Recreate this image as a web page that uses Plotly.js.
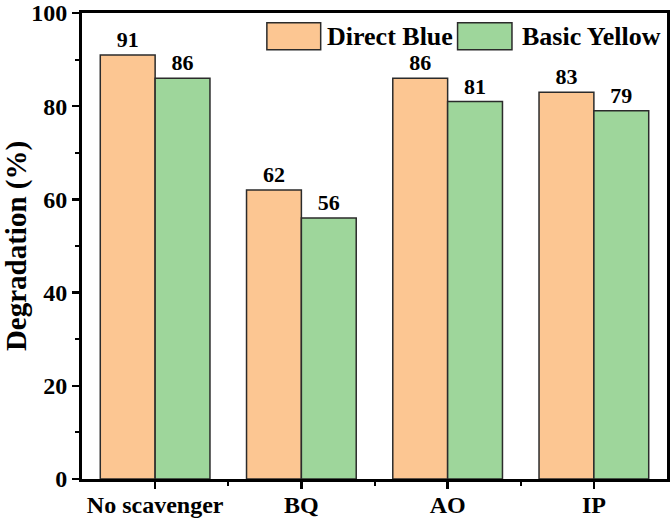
<!DOCTYPE html>
<html>
<head>
<meta charset="utf-8">
<script src="https://cdn.plot.ly/plotly-3.0.1.min.js"></script>
<style>
  body { margin: 0; background: #fff; }
  #chart { width: 670px; height: 521px; }
</style>
</head>
<body>
<div id="chart"></div>
<script>
const categories = ['No scavenger', 'BQ', 'AO', 'IP'];
const directBlue = [91, 62, 86, 83];
const basicYellow = [86, 56, 81, 79];
const yTicks = [0, 20, 40, 60, 80, 100];

const FONT = 'Liberation Serif, Times New Roman, serif';
const ORANGE = '#FCC692';
const GREEN = '#9ED69B';

const xPos = categories.map((c, i) => i);

const bar = (name, vals, color) => ({
    type: 'bar',
    name: name,
    x: xPos,
    y: vals,
    marker: { color: color, line: { color: '#2b2b2b', width: 1.5 } },
    text: vals.map(String),
    textposition: 'outside',
    textfont: { family: FONT, size: 22, weight: 'bold', color: '#000' },
    cliponaxis: false,
    hoverinfo: 'x+y'
});

const data = [
    bar('Direct Blue', directBlue, ORANGE),
    bar('Basic Yellow', basicYellow, GREEN)
];

// legend boxes drawn in paper space
const legendItems = [
    { name: 'Direct Blue', color: ORANGE, x0: 0.316, x1: 0.408, tx: 0.415 },
    { name: 'Basic Yellow', color: GREEN, x0: 0.642, x1: 0.735, tx: 0.749 }
];

const shapes = legendItems.map(it => ({
    type: 'rect', xref: 'paper', yref: 'paper',
    x0: it.x0, x1: it.x1, y0: 0.921, y1: 0.979,
    fillcolor: it.color, line: { color: '#2b2b2b', width: 1.5 }
}));

const annotations = legendItems.map(it => ({
    xref: 'paper', yref: 'paper', x: it.tx, y: 0.949,
    xanchor: 'left', yanchor: 'middle', showarrow: false,
    text: it.name,
    font: { family: FONT, size: 26, weight: 'bold', color: '#000' }
}));

const layout = {
    width: 670,
    height: 521,
    margin: { l: 82, r: 3, t: 13, b: 42 },
    paper_bgcolor: '#fff',
    plot_bgcolor: '#fff',
    showlegend: false,
    barmode: 'group',
    bargap: 0.25,
    bargroupgap: 0,
    font: { family: FONT, color: '#000' },
    xaxis: {
        range: [-0.5, 3.5],
        tickmode: 'array',
        tickvals: xPos,
        ticktext: categories,
        ticks: 'outside',
        ticklen: 7,
        tickwidth: 2.5,
        tickcolor: '#000',
        ticklabelstandoff: -5,
        tickfont: { family: FONT, size: 24, weight: 'bold', color: '#000' },
        showline: true,
        linewidth: 3,
        linecolor: '#000',
        mirror: true,
        showgrid: false,
        zeroline: false,
        minor: { tickmode: 'array', tickvals: [0.5, 1.5, 2.5], ticks: 'outside', ticklen: 4, tickwidth: 2, tickcolor: '#000', showgrid: false }
    },
    yaxis: {
        range: [0, 100],
        tickmode: 'array',
        tickvals: yTicks,
        ticks: 'outside',
        ticklen: 7,
        tickwidth: 2.5,
        tickcolor: '#000',
        tickfont: { family: FONT, size: 24, weight: 'bold', color: '#000' },
        showline: true,
        linewidth: 3,
        linecolor: '#000',
        mirror: true,
        showgrid: false,
        zeroline: false,
        minor: { dtick: 10, ticks: 'outside', ticklen: 4, tickwidth: 2, tickcolor: '#000', showgrid: false },
        title: { text: 'Degradation (%)', standoff: 14, font: { family: FONT, size: 29, weight: 'bold', color: '#000' } }
    },
    shapes: shapes,
    annotations: annotations
};

Plotly.newPlot('chart', data, layout, { displayModeBar: false, staticPlot: true });
</script>
</body>
</html>
